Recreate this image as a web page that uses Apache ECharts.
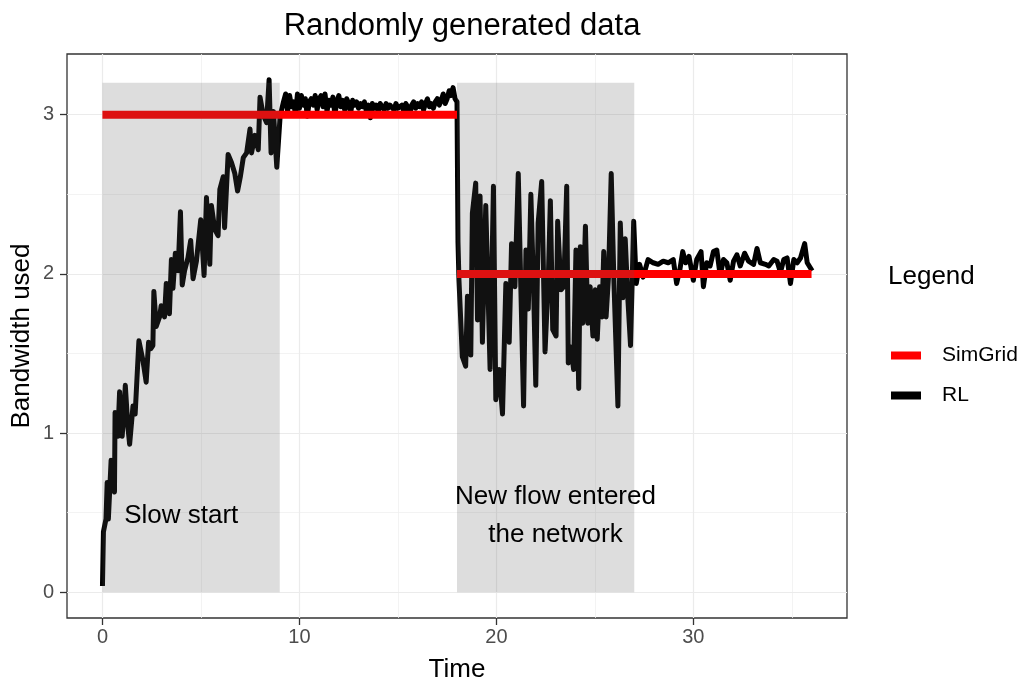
<!DOCTYPE html>
<html><head><meta charset="utf-8">
<script src="https://cdn.jsdelivr.net/npm/echarts@6/dist/echarts.min.js"></script>
<style>html,body{margin:0;padding:0;background:#fff}#c{width:1024px;height:684px}</style>
</head><body><div id="c"></div>
<script>
// RL bandwidth samples: [time, bandwidth]
const rl = [
 [0,0.04],[0.05,0.38],[0.18,0.46],[0.24,0.69],[0.3,0.46],[0.44,0.83],[0.55,0.66],[0.61,0.63],[0.64,1.13],[0.78,0.98],
 [0.87,1.26],[1.0,0.98],[1.1,1.15],[1.16,1.30],[1.29,1.04],[1.38,0.93],[1.55,1.17],[1.66,1.12],[1.85,1.58],[2.05,1.46],
 [2.22,1.32],[2.34,1.57],[2.45,1.53],[2.56,1.55],[2.61,1.89],[2.73,1.67],[2.9,1.73],[2.98,1.80],[3.15,1.73],[3.24,1.94],
 [3.4,1.75],[3.5,2.09],[3.58,1.91],[3.7,2.13],[3.84,2.02],[3.96,2.39],[4.05,1.93],[4.17,2.02],[4.34,2.10],[4.48,2.21],
 [4.6,1.97],[4.77,2.08],[4.99,2.34],[5.16,1.99],[5.28,2.48],[5.45,2.06],[5.53,2.43],[5.7,2.28],[5.87,2.24],[5.96,2.53],
 [6.13,2.61],[6.2,2.29],[6.38,2.75],[6.55,2.70],[6.72,2.63],[6.86,2.52],[7.0,2.61],[7.15,2.73],[7.32,2.76],[7.49,2.91],
 [7.57,2.76],[7.74,2.87],[7.91,2.78],[8.0,3.11],[8.16,3.0],[8.33,2.95],[8.46,3.22],[8.56,2.76],[8.68,3.02],[8.85,2.67],
 [9.02,2.99],[9.19,3.08],
 [9.3,3.13],[9.4,3.02],[9.5,3.12],[9.6,3.05],[9.7,3.08],[9.8,3.0],[9.9,3.13],[10.0,3.04],[10.1,3.12],[10.2,3.06],
 [10.3,3.1],[10.4,2.99],[10.5,3.08],[10.6,3.1],[10.7,3.06],[10.8,3.12],[10.9,3.03],[11.0,3.1],[11.1,3.12],[11.2,3.05],
 [11.3,3.13],[11.4,3.02],[11.5,3.09],[11.6,3.06],[11.7,3.11],[11.8,3.0],[11.9,3.08],[12.0,3.12],[12.1,3.05],[12.2,3.09],
 [12.3,3.03],[12.4,3.1],[12.5,3.07],[12.6,3.01],[12.7,3.09],[12.8,3.06],[12.9,3.08],[13.0,3.04],[13.1,3.07],[13.2,3.05],
 [13.3,3.08],[13.4,3.02],[13.5,3.06],[13.6,2.98],[13.7,3.07],[13.8,3.04],[13.9,3.06],[14.0,3.02],[14.1,3.07],[14.2,3.05],
 [14.3,3.03],[14.4,3.07],[14.5,3.04],[14.6,3.06],[14.7,3.05],[14.8,3.03],[14.9,3.07],[15.0,3.04],[15.2,3.06],[15.3,3.02],
 [15.4,3.07],[15.5,3.05],[15.6,3.0],[15.7,3.06],[15.8,3.08],[15.9,3.04],[16.0,3.07],[16.1,3.05],[16.2,3.08],[16.3,3.03],
 [16.4,3.07],[16.5,3.1],[16.6,3.05],[16.7,3.07],[16.8,3.04],[16.9,3.08],[17.0,3.1],[17.1,3.06],[17.2,3.09],[17.3,3.13],
 [17.4,3.07],[17.5,3.1],[17.6,3.15],[17.7,3.12],[17.8,3.17],[17.9,3.1],[18.0,3.08],[18.05,2.2],
 [18.1,1.96],[18.27,1.48],[18.44,1.42],[18.53,1.86],[18.7,1.49],[18.78,2.38],[18.95,2.57],[19.04,1.71],[19.17,2.49],[19.29,1.57],
 [19.46,2.43],[19.68,1.40],[19.85,2.55],[19.97,1.21],[20.14,1.40],[20.31,1.12],[20.4,1.13],[20.48,1.94],[20.65,1.57],[20.77,2.19],
 [20.94,1.92],[21.11,2.63],[21.24,1.92],[21.38,1.17],[21.5,2.15],[21.62,1.78],[21.75,2.50],[21.89,1.90],[22.0,1.30],[22.12,2.32],
 [22.3,2.58],[22.47,1.51],[22.64,1.99],[22.74,2.46],[22.86,1.65],[23.03,1.61],[23.11,2.33],[23.28,1.9],[23.42,1.92],[23.57,2.55],
 [23.65,1.44],[23.79,1.54],[23.92,1.40],[24.04,2.15],[24.18,1.28],[24.26,2.17],[24.38,1.69],[24.52,2.30],[24.64,1.69],[24.76,1.92],
 [24.9,1.61],[25.02,1.90],[25.12,1.59],[25.24,1.92],[25.36,1.73],[25.45,2.14],[25.57,1.73],[25.69,1.98],[25.83,2.63],[25.97,1.94],
 [26.17,1.17],[26.29,2.32],[26.42,1.85],[26.54,2.22],[26.68,1.83],[26.81,1.55],[26.97,2.33],[27.1,1.94],[27.27,2.06],
 [27.45,1.98],[27.7,2.09],[27.96,2.07],[28.21,2.06],[28.47,2.08],[28.72,2.07],[28.98,2.09],[29.15,1.94],[29.32,2.03],[29.46,2.14],
 [29.61,2.07],[29.78,2.11],[30.0,1.96],[30.17,2.09],[30.39,2.14],[30.51,1.92],[30.68,2.07],[30.85,2.05],[31.02,2.14],[31.19,2.15],
 [31.36,1.99],[31.53,2.09],[31.7,2.07],[31.87,1.96],[32.04,2.08],[32.21,2.12],[32.38,2.05],[32.6,2.13],[32.8,2.08],[33.06,2.06],
 [33.23,2.16],[33.4,2.07],[33.66,2.06],[33.83,2.05],[34.08,2.09],[34.25,2.08],[34.42,2.01],[34.59,2.09],[34.76,2.10],[34.93,1.94],
 [35.1,2.09],[35.27,2.07],[35.44,2.10],[35.65,2.19],[35.78,2.07],[36.03,2.02]
];
// SimGrid reference allocation (gap at t = 18)
const simgrid = [[0,3],[18,3],[18,'-'],[18,2],[36,2]];
// shaded phases [xStart, xEnd] and their top
const shadedRegions = [[0,9],[18,27]];
const shadeTop = 3.2;
// text annotations [x, y, text]
const annotations = [[4,0.48,'Slow start'],[23,0.48,'New flow entered\nthe network']];
// axis ticks
const xTicks = [0,10,20,30];
const xMinor = [5,15,25,35];
const yTicks = [0,1,2,3];
const yMinor = [0.5,1.5,2.5];

const FONT = '"Liberation Sans", Arial, Helvetica, sans-serif';
const chart = echarts.init(document.getElementById('c'), null, {renderer:'canvas'});

const gridLines = [];
xMinor.forEach(v => gridLines.push({xAxis: v, lineStyle:{color:'#F0F0F0', width:0.8, type:'solid'}}));
yMinor.forEach(v => gridLines.push({yAxis: v, lineStyle:{color:'#F0F0F0', width:0.8, type:'solid'}}));
xTicks.forEach(v => gridLines.push({xAxis: v, lineStyle:{color:'#EBEBEB', width:1.2, type:'solid'}}));
yTicks.forEach(v => gridLines.push({yAxis: v, lineStyle:{color:'#EBEBEB', width:1.2, type:'solid'}}));

chart.setOption({
  animation: false,
  title: [
    {text:'Randomly generated data', left:457, top:6, textAlign:'center',
     textStyle:{fontFamily:FONT, fontSize:31, fontWeight:'normal', color:'#000'}},
    {text:'Legend', left:883, top:259,
     textStyle:{fontFamily:FONT, fontSize:26, fontWeight:'normal', color:'#000'}}
  ],
  legend: {
    data:['SimGrid','RL'], orient:'vertical', left:886, top:340,
    itemWidth:30, itemHeight:8, itemGap:19, icon:'rect',
    textStyle:{fontFamily:FONT, fontSize:21, color:'#000', padding:[0,0,0,16]}
  },
  grid: {left:67, top:54, width:780, height:564, outerBoundsMode:'none', containLabel:false,
         show:true, borderColor:'#333', borderWidth:1.3, backgroundColor:'transparent'},
  xAxis: {
    type:'value', min:-1.8, max:37.8,
    name:'Time', nameLocation:'middle', nameGap:39, nameMoveOverlap:false,
    nameTextStyle:{fontFamily:FONT, fontSize:26, color:'#000'},
    axisLine:{show:true, onZero:false, lineStyle:{color:'rgba(0,0,0,0)'}},
    axisTick:{show:true, inside:false, length:7, customValues:xTicks, lineStyle:{color:'#333', width:1.3}},
    axisLabel:{customValues:xTicks, margin:9, fontFamily:FONT, fontSize:20, color:'#4D4D4D'},
    splitLine:{show:false}
  },
  yAxis: {
    type:'value', min:-0.161, max:3.381,
    name:'Bandwidth used', nameLocation:'middle', nameGap:32, nameMoveOverlap:false,
    nameTextStyle:{fontFamily:FONT, fontSize:26, color:'#000'},
    axisLine:{show:true, onZero:false, lineStyle:{color:'rgba(0,0,0,0)'}},
    axisTick:{show:true, inside:false, length:7, customValues:yTicks, lineStyle:{color:'#333', width:1.3}},
    axisLabel:{customValues:yTicks, margin:13, fontFamily:FONT, fontSize:20, color:'#4D4D4D'},
    splitLine:{show:false}
  },
  series: [
    {name:'gridlines', type:'line', data:[], z:1, silent:true,
     markLine:{silent:true, symbol:'none', z:1, label:{show:false}, data:gridLines}},
    {name:'RL', type:'line', data:rl, z:3, showSymbol:false, symbol:'none', color:'#000',
     lineStyle:{color:'#000', width:5, join:'round'}},
    {name:'SimGrid', type:'line', data:simgrid, z:4, showSymbol:false, symbol:'none', color:'#FF0000', connectNulls:false,
     lineStyle:{color:'#FF0000', width:8}},
    {name:'shade', type:'line', data:[], z:10, silent:true,
     markArea:{silent:true, z:10, itemStyle:{color:'rgba(83,83,83,0.2)'},
       data: shadedRegions.map(r => [{xAxis:r[0], yAxis:0}, {xAxis:r[1], yAxis:shadeTop}])}},
    {name:'notes', type:'scatter', data:annotations, z:20, zlevel:1, silent:true, symbolSize:1,
     itemStyle:{color:'transparent', opacity:1},
     label:{show:true, position:'inside', formatter: p => p.data[2], fontFamily:FONT, fontSize:26,
            color:'#000', opacity:1, textBorderWidth:0, lineHeight:38, align:'center'}}
  ]
});
</script></body></html>
